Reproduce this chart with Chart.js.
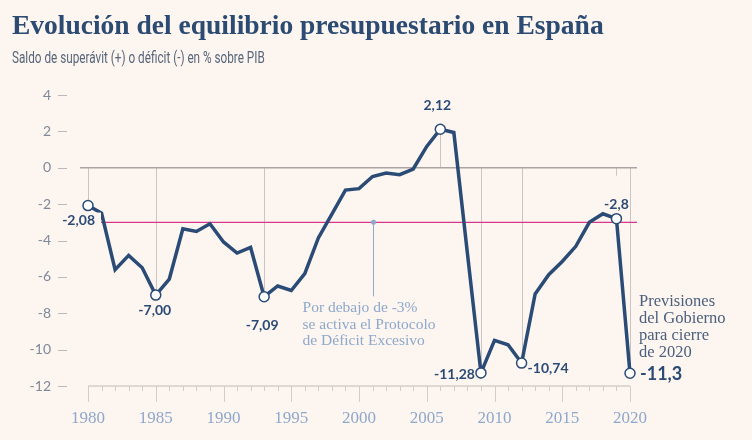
<!DOCTYPE html>
<html lang="es">
<head>
<meta charset="utf-8">
<title>Evolución del equilibrio presupuestario en España</title>
<script src="https://cdn.jsdelivr.net/npm/chart.js@4.4.1/dist/chart.umd.min.js"></script>
<style>
  html, body { margin: 0; padding: 0; background: #fdf5ef; }
  #wrap { position: relative; width: 752px; height: 440px; overflow: hidden; }
  #chart { position: absolute; left: 0; top: 0; }
  .title {
    position: absolute; left: 12px; top: 9px;
    font: bold 27.5px "Liberation Serif", serif; color: #2b4b73;
    white-space: nowrap;
  }
  .subtitle {
    position: absolute; left: 12px; top: 47px;
    font: 17px "Roboto", sans-serif; color: #56667b;
    white-space: nowrap;
    transform: scaleX(0.69); transform-origin: left top;
  }
</style>
</head>
<body>
<div id="wrap">
  <canvas id="chart" width="752" height="440"></canvas>
  <div class="title">Evolución del equilibrio presupuestario en España</div>
  <div class="subtitle">Saldo de superávit (+) o déficit (-) en % sobre PIB</div>
</div>
<script>
// Saldo presupuestario de las AAPP, % del PIB
const years = [
  1980, 1981, 1982, 1983, 1984, 1985, 1986, 1987, 1988, 1989,
  1990, 1991, 1992, 1993, 1994, 1995, 1996, 1997, 1998, 1999,
  2000, 2001, 2002, 2003, 2004, 2005, 2006, 2007, 2008, 2009,
  2010, 2011, 2012, 2013, 2014, 2015, 2016, 2017, 2018, 2019, 2020,
];
const saldo = [
  -2.08, -2.5, -5.6, -4.82, -5.5, -7.0, -6.12, -3.35, -3.5, -3.08,
  -4.08, -4.69, -4.38, -7.09, -6.5, -6.75, -5.82, -3.86, -2.55, -1.23,
  -1.15, -0.48, -0.29, -0.38, -0.07, 1.17, 2.12, 1.94, -4.7, -11.28,
  -9.49, -9.73, -10.74, -6.94, -5.88, -5.15, -4.32, -3.0, -2.53, -2.8, -11.3,
];
const yTicks = [-12, -10, -8, -6, -4, -2, 0, 2, 4];
const xMajorTicks = [1980, 1985, 1990, 1995, 2000, 2005, 2010, 2015, 2020];
const umbralDeficit = -3;

// años destacados con su etiqueta
const destacados = [1980, 1985, 1993, 2006, 2009, 2012, 2019, 2020];
const etiquetas = ["-2,08", "-7,00", "-7,09", "2,12", "-11,28", "-10,74", "-2,8", "-11,3"];

const anioNota = 2001;
const notaUmbral = ["Por debajo de -3%", "se activa el Protocolo", "de Déficit Excesivo"];
const notaPrevision = ["Previsiones", "del Gobierno", "para cierre", "de 2020"];

const NAVY = "#2a4b76";
const BG = "#fdf5ef";

// offsets of each label relative to its point
const LABEL_POS = {
  1980: { dx: 7, dy: 15, align: "right" },
  1985: { dx: -1, dy: 15, align: "center" },
  1993: { dx: -2, dy: 29, align: "center" },
  2006: { dx: -3, dy: -24, align: "center" },
  2009: { dx: -6, dy: 2, align: "right" },
  2012: { dx: 6, dy: 5, align: "left" },
  2019: { dx: 0, dy: -14, align: "center" },
  2020: { dx: 10, dy: 1, align: "left", big: true },
};

const valueAt = (yr) => saldo[years.indexOf(yr)];

function line(ctx, x1, y1, x2, y2) {
  ctx.beginPath();
  ctx.moveTo(x1, y1);
  ctx.lineTo(x2, y2);
  ctx.stroke();
}

const decor = {
  id: "decor",
  beforeDatasetsDraw(chart) {
    const { ctx, chartArea: a, scales: { x, y } } = chart;
    const y0 = y.getPixelForValue(0);
    ctx.save();

    // y tick dashes, set apart from the plot
    ctx.strokeStyle = "#bdb9bb";
    ctx.lineWidth = 1;
    yTicks.forEach((v) => {
      const py = Math.round(y.getPixelForValue(v)) + 0.5;
      line(ctx, a.left - 30, py, a.left - 21, py);
    });

    // drop lines from zero to highlighted points
    ctx.strokeStyle = "#cbc4c2";
    destacados.forEach((yr) => {
      const px = Math.round(x.getPixelForValue(yr)) + 0.5;
      const end = yr === 2019 ? y0 + 8 : y.getPixelForValue(valueAt(yr));
      line(ctx, px, y0, px, end);
    });

    // zero line
    ctx.strokeStyle = "#a9a4a4";
    ctx.lineWidth = 1.5;
    line(ctx, a.left - 8, y0, a.right + 7, y0);

    // -3% threshold
    ctx.strokeStyle = "#d8388a";
    ctx.lineWidth = 1.2;
    const yu = y.getPixelForValue(umbralDeficit);
    line(ctx, a.left - 8, yu, a.right + 7, yu);

    // bottom axis with yearly ticks
    ctx.strokeStyle = "#d3ccc9";
    ctx.lineWidth = 1.5;
    line(ctx, a.left, a.bottom, a.right, a.bottom);
    ctx.lineWidth = 1;
    years.forEach((yr) => {
      const px = Math.round(x.getPixelForValue(yr)) + 0.5;
      const len = xMajorTicks.includes(yr) ? 16 : 5;
      line(ctx, px, a.bottom, px, a.bottom + len);
    });

    // threshold note pointer
    const pxN = Math.round(x.getPixelForValue(anioNota)) + 0.5;
    ctx.strokeStyle = "#8ea8cc";
    line(ctx, pxN, yu, pxN, yu + 74);
    ctx.fillStyle = "#8ea8cc";
    ctx.beginPath();
    ctx.arc(pxN, yu, 2.5, 0, Math.PI * 2);
    ctx.fill();

    ctx.restore();
  },
  afterDatasetsDraw(chart) {
    const { ctx, scales: { x, y } } = chart;
    ctx.save();
    ctx.textBaseline = "middle";

    destacados.forEach((yr, i) => {
      const pos = LABEL_POS[yr];
      const px = x.getPixelForValue(yr) + pos.dx;
      const py = y.getPixelForValue(valueAt(yr)) + pos.dy;
      ctx.font = pos.big ? "bold 18px Lato" : "bold 14px Lato";
      ctx.textAlign = pos.align;
      const w = ctx.measureText(etiquetas[i]).width;
      let left = px;
      if (pos.align === "right") left = px - w;
      if (pos.align === "center") left = px - w / 2;
      if (yr === 1980) {
        ctx.fillStyle = BG;
        ctx.fillRect(left - 4, py - 8, w + 10, 16);
      }
      ctx.fillStyle = NAVY;
      ctx.fillText(etiquetas[i], px, py);
    });

    // notes
    ctx.font = "15.5px 'Liberation Serif'";
    ctx.textAlign = "left";
    const yu = y.getPixelForValue(umbralDeficit);
    const pxN = x.getPixelForValue(anioNota);
    ctx.fillStyle = "#8ea8cc";
    notaUmbral.forEach((t, i) => ctx.fillText(t, pxN - 70, yu + 86 + i * 16.5));

    const px20 = x.getPixelForValue(2020);
    const py20 = y.getPixelForValue(valueAt(2020));
    ctx.font = "16.5px 'Liberation Serif'";
    ctx.fillStyle = "#4a5f7c";
    notaPrevision.forEach((t, i) => ctx.fillText(t, px20 + 9, py20 - 72 + i * 17.2));

    ctx.restore();
  },
};

new Chart(document.getElementById("chart"), {
  type: "line",
  data: {
    datasets: [{
      data: years.map((yr, i) => ({ x: yr, y: saldo[i] })),
      borderColor: NAVY,
      borderWidth: 3.5,
      borderJoinStyle: "miter",
      tension: 0,
      clip: false,
      pointRadius: (c) => (destacados.includes(years[c.dataIndex]) ? 5 : 0),
      pointBackgroundColor: "#ffffff",
      pointBorderColor: NAVY,
      pointBorderWidth: 1.5,
    }],
  },
  options: {
    responsive: false,
    animation: false,
    layout: { padding: { top: 95, right: 122, left: 0, bottom: 0 } },
    plugins: { legend: { display: false }, tooltip: { enabled: false } },
    scales: {
      x: {
        type: "linear",
        min: 1980,
        max: 2020,
        ticks: {
          stepSize: 5,
          color: "#8ea8cc",
          font: { family: "Liberation Serif", size: 17 },
          padding: 22,
          callback: (v) => String(v),
        },
        grid: { display: false, drawTicks: false },
        border: { display: false },
        afterFit: (s) => { s.height = 54; },
      },
      y: {
        min: -12,
        max: 4,
        ticks: {
          stepSize: 2,
          color: "#7e899a",
          font: { family: "Lato", size: 14 },
          padding: 37,
          callback: (v) => String(v),
        },
        grid: { display: false, drawTicks: false },
        border: { display: false },
        afterFit: (s) => { s.width = 88; },
      },
    },
  },
  plugins: [decor],
});
</script>
</body>
</html>
